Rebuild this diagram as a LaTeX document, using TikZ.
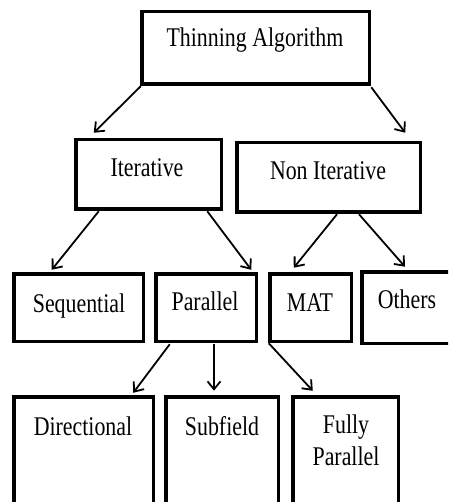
\documentclass[tikz,border=0pt]{standalone}
\usepackage{fontspec}
\setmainfont{Liberation Serif}[FakeStretch=0.81]
\usetikzlibrary{arrows.meta,calc}
\tikzset{
  box/.style={draw=black, line width=3.5pt, rectangle, inner sep=0pt, outer sep=0pt, fill=white},
  lbl/.style={anchor=base, inner sep=0pt, font=\fontsize{27}{32}\selectfont},
  conn/.style={line width=1.8pt, -{Straight Barb[length=8pt,width=13pt]}},
}
\begin{document}
\begin{tikzpicture}[x=1pt,y=-1pt]
\clip (0,0) rectangle (448,502);
\fill[white] (0,0) rectangle (448,502);
% boxes
\node[box, minimum width=227.5pt, minimum height=72.5pt] (top) at (255.5,48) {};
\node[box, minimum width=145.5pt, minimum height=69.5pt] (it) at (148.5,174.5) {};
\node[box, minimum width=183.5pt, minimum height=69.5pt] (ni) at (328.5,177.5) {};
\node[box, minimum width=129.5pt, minimum height=67.5pt] (seq) at (78.5,307.5) {};
\node[box, minimum width=100.5pt, minimum height=67.5pt] (par) at (206,307.5) {};
\node[box, minimum width=81.5pt, minimum height=67.5pt] (mat) at (310.5,307.5) {};
\node[box, minimum width=88.5pt, minimum height=71.5pt] (oth) at (406,307.5) {};
\node[box, minimum width=139.5pt, minimum height=131.5pt] (dir) at (83.5,462.5) {};
\node[box, minimum width=112.5pt, minimum height=131.5pt] (sub) at (222,462.5) {};
\node[box, minimum width=105.5pt, minimum height=131.5pt] (fp) at (345.5,462.5) {};
% labels
\node[lbl] (ttop) at (255,47) {Thinning Algorithm};
\node[lbl] (tit) at (147,177) {Iterative};
\node[lbl] (tni) at (328,180) {Non Iterative};
\node[lbl] (tseq) at (79,312) {Sequential};
\node[lbl] (tpar) at (205,310) {Parallel};
\node[lbl] (tmat) at (310,311) {MAT};
\node[lbl] (toth) at (407,308) {Others};
\node[lbl] (tdir) at (83,435) {Directional};
\node[lbl] (tsub) at (222,435) {Subfield};
\node[lbl] (tfp1) at (346,433) {Fully};
\node[lbl] (tfp2) at (346,465) {Parallel};
% connectors
\draw[conn] ($(top.south west)+(-1,2)$) -- ($(it.north west)+(18,-7)$);
\draw[conn] ($(top.south east)+(2,3)$) -- ($(ni.north east)+(-15,-10)$);
\draw[conn] ($(it.south west)+(23,2)$) -- ($(seq.north west)+(38,-4)$);
\draw[conn] ($(it.south east)+(-14,2)$) -- ($(par.north east)+(-5,-4)$);
\draw[conn] ($(ni.south)+(8.5,2)$) -- ($(mat.north west)+(24,-6)$);
\draw[conn] ($(ni.south)+(30.5,2)$) -- ($(oth.north)+(-1,-5)$);
\draw[conn] ($(par.south west)+(14,3)$) -- ($(dir.north east)+(-20,-4)$);
\draw[conn] ($(par.south)+(8,3)$) -- ($(sub.north)+(-8,-6)$);
\draw[conn] ($(mat.south west)+(-1,2)$) -- ($(fp.north west)+(20,-6)$);
\end{tikzpicture}
\end{document}
